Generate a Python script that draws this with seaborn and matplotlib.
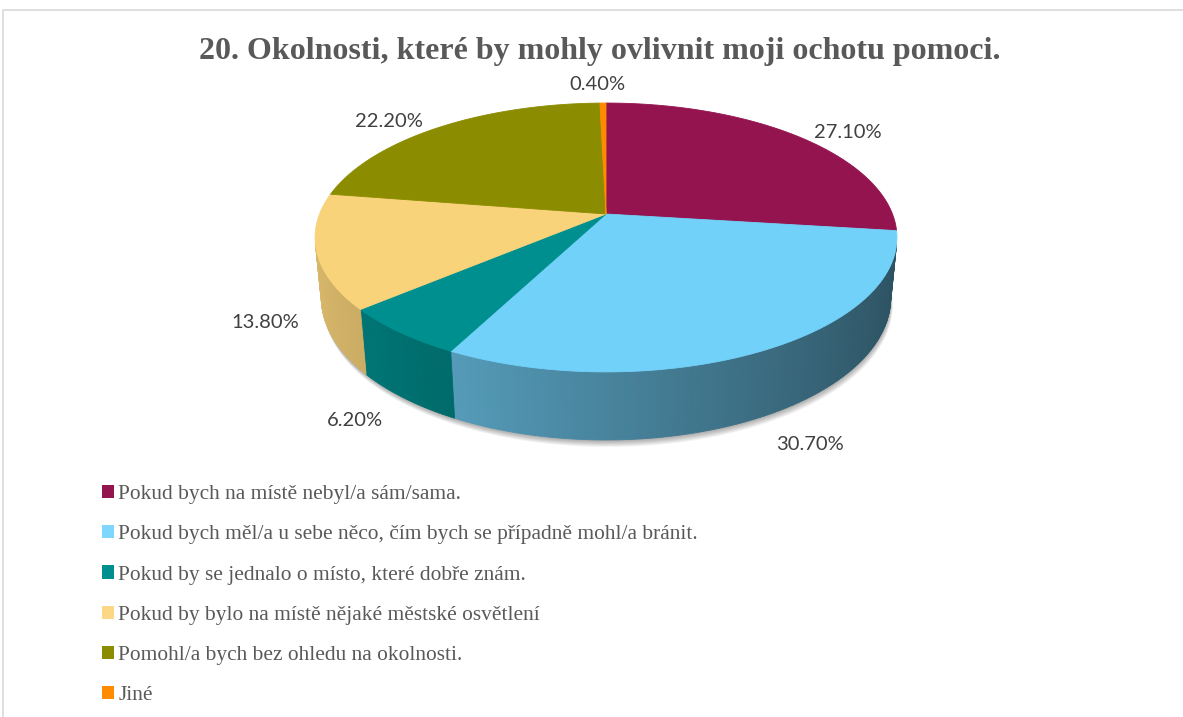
import numpy as np
import matplotlib
matplotlib.use("Agg")
import matplotlib.pyplot as plt
import matplotlib.transforms as mtransforms
from matplotlib.path import Path
from matplotlib.patches import Polygon, Patch, Rectangle
import seaborn as sns

# ---- data -------------------------------------------------------------
categories = [
    "Pokud bych na místě nebyl/a sám/sama.",
    "Pokud bych měl/a u sebe něco, čím bych se případně mohl/a bránit.",
    "Pokud by se jednalo o místo, které dobře znám.",
    "Pokud by bylo na místě nějaké městské osvětlení",
    "Pomohl/a bych bez ohledu na okolnosti.",
    "Jiné",
]
shares = [27.1, 30.7, 6.2, 13.8, 22.2, 0.4]
value_labels = ["27.10%", "30.70%", "6.20%", "13.80%", "22.20%", "0.40%"]
title = "20. Okolnosti, které by mohly ovlivnit moji ochotu pomoci."

# ---- styling ----------------------------------------------------------
slice_colors = ["#94144F", "#72D1F9", "#008F8F", "#F9D37A", "#8C8C00", "#FF8C00"]
legend_colors = ["#94144F", "#7FD6FF", "#008F8F", "#FCD785", "#8C8C00", "#FF8C00"]
# label offsets (pixels, right / down) from the rim point at each slice's middle
label_offsets = [(49, -4), (50, 27), (-50, 22), (-58, 10), (-50, -6), (-6, -19)]

sns.set_theme(style="white")
plt.rcParams["font.family"] = ["Liberation Serif", "DejaVu Serif"]

W, H = 1183, 717
fig = plt.figure(figsize=(W / 100, H / 100), dpi=100)
ax = fig.add_axes([0, 0, 1, 1])

# perspective camera for the tilted disc (pie radius = 1)
CX, CY = 606.0, 214.0
FOCAL = 1461.0
DIST = 5.10
SIN_T = 0.455
COS_T = np.sqrt(1 - SIN_T ** 2)
THICK = 0.239


def project(x, y, z):
    x = np.asarray(x, float)
    y = np.asarray(y, float)
    depth = DIST + y * COS_T - z * SIN_T
    px = CX + FOCAL * x / depth
    py = CY - FOCAL * (y * SIN_T + z * COS_T) / depth
    return px, py


class DiscProjection(mtransforms.Transform):
    """Maps pie coordinates on the plane z onto the tilted view."""
    input_dims = output_dims = 2
    is_separable = False
    has_inverse = False

    def __init__(self, z=0.0):
        super().__init__()
        self.z = z

    def transform_non_affine(self, xy):
        xy = np.asarray(xy, float).reshape(-1, 2)
        px, py = project(xy[:, 0], xy[:, 1], self.z)
        return np.column_stack([px, py])

    def transform_path_non_affine(self, path):
        pts = []
        for curve, _ in path.iter_bezier():
            pts.append(curve(np.linspace(0, 1, 30)))
        verts = np.vstack(pts)
        verts = np.vstack([verts, verts[:1]])
        return Path(self.transform_non_affine(verts), closed=True)


wedges, _ = ax.pie(shares, colors=slice_colors, startangle=90, counterclock=False,
                   wedgeprops=dict(linewidth=0.6))
ax.set_aspect("auto")
ax.set_xlim(0, W)
ax.set_ylim(H, 0)
ax.axis("off")

top_tf = DiscProjection(0.0) + ax.transData
for w, col in zip(wedges, slice_colors):
    w.set_transform(top_tf)
    w.set_edgecolor(col)
    w.set_zorder(5)

# soft shadow under the disc
phi = np.radians(np.linspace(0, 360, 361))
bx, by = project(np.cos(phi), np.sin(phi), -THICK)
for i, off in enumerate(np.linspace(1, 7, 7)):
    ax.add_patch(Polygon(np.column_stack([bx + off * 0.3, by + off]), closed=True,
                         facecolor="#000000", edgecolor="none", alpha=0.05, zorder=1))

# visible outer wall, shaded by its facing direction
limit = np.degrees(np.arcsin(1.0 / (DIST * COS_T)))
vis_lo, vis_hi = 180 + limit, 360 - limit


def shade(deg):
    return 0.632 + 0.243 * np.cos(np.radians(deg - 180))


for w, col in zip(wedges, slice_colors):
    a1, a2 = w.theta1 % 360, w.theta2 % 360
    if a2 <= a1:
        a2 += 360
    for base in (0, 360):
        lo = max(a1, vis_lo + base)
        hi = min(a2, vis_hi + base)
        if hi <= lo:
            continue
        steps = max(2, int(np.ceil((hi - lo) / 0.8)))
        ang = np.linspace(lo, hi, steps + 1)
        rgb = np.array(matplotlib.colors.to_rgb(col))
        for j in range(steps):
            t0, t1 = np.radians(ang[j]), np.radians(ang[j + 1])
            xs = np.cos([t0, t1])
            ys = np.sin([t0, t1])
            tx, ty = project(xs, ys, 0.0)
            ux, uy = project(xs, ys, -THICK)
            quad = np.array([[tx[0], ty[0]], [tx[1], ty[1]], [ux[1], uy[1]], [ux[0], uy[0]]])
            c = np.clip(rgb * shade(0.5 * (ang[j] + ang[j + 1])), 0, 1)
            ax.add_patch(Polygon(quad, closed=True, facecolor=c, edgecolor=c,
                                 linewidth=0.6, zorder=3))

# value labels at the slice middles
for w, lab, (dx, dy) in zip(wedges, value_labels, label_offsets):
    mid = np.radians(0.5 * (w.theta1 + w.theta2))
    z = 0.0 if np.sin(mid) > 0 else -THICK
    px, py = project(np.cos(mid), np.sin(mid), z)
    ax.text(float(px) + dx, float(py) + dy, lab, ha="center", va="center",
            fontsize=14.5, color="#404040", family=["Lato", "DejaVu Sans"], zorder=6)

fig.text(600 / W, 1 - 51 / H, title, ha="center", va="center", fontsize=23,
         fontweight="bold", color="#595959")

handles = [Patch(facecolor=c, edgecolor="none") for c in legend_colors]
leg = fig.legend(handles, categories, loc="upper left",
                 bbox_to_anchor=(102 / W, 1 - 485 / H), frameon=False,
                 fontsize=15.4, labelcolor="#595959", handlelength=0.56,
                 handleheight=0.56, handletextpad=0.2, labelspacing=0.99,
                 borderaxespad=0, borderpad=0)

# chart-area frame
fig.patches.append(Rectangle((3 / W, -0.05), 1.1, 1 - 10 / H + 0.05,
                             transform=fig.transFigure, fill=False,
                             edgecolor="#D9D9D9", linewidth=1.2))

fig.savefig("out.png", dpi=100)
